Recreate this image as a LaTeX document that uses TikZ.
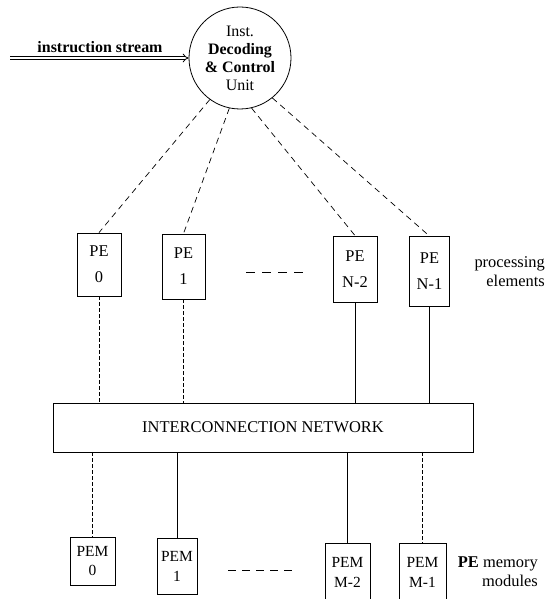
\documentclass[tikz,border=0pt]{standalone}
\usepackage{fontspec}
\setmainfont{Liberation Serif}
\usetikzlibrary{arrows.meta}
\begin{document}
\begin{tikzpicture}[x=1bp,y=-1bp,
  box/.style={draw, line width=0.8bp, rectangle, inner sep=0pt, align=center, font=\fontsize{16.5}{26}\selectfont},
  pembox/.style={box, font=\fontsize{15.5}{20}\selectfont},
  ctl/.style={dash pattern=on 6bp off 4.5bp, line width=0.7bp},
  link/.style={line width=0.7bp},
  dlink/.style={line width=0.7bp, dash pattern=on 4bp off 2bp},
  dots/.style={line width=0.9bp, dash pattern=on 9bp off 7bp},
  lbl/.style={font=\fontsize{16.5}{19}\selectfont, align=right, inner sep=0pt}
]
\useasboundingbox (0,0) rectangle (559,599);

% control unit
\node[draw, circle, line width=0.8bp, minimum size=102bp, inner sep=0pt, align=center,
      font=\fontsize{16}{18}\selectfont] (ctrl) at (240,58)
      {Inst.\\\textbf{Decoding}\\\textbf{\& Control}\\Unit};

% instruction stream
\coordinate (src) at (10,58);
\draw[line width=0.8bp, double distance=2.2bp, -{Implies}] (src) -- (ctrl.west);
\node[font=\fontsize{16}{19}\selectfont\bfseries, inner sep=0pt] (istream) at (100,47) {instruction stream};

% processing elements
\node[box, minimum width=44bp, minimum height=63bp] (pe0) at (99,264.5) {PE\\0};
\node[box, minimum width=43bp, minimum height=65bp] (pe1) at (183.5,266.5) {PE\\1};
\node[box, minimum width=44bp, minimum height=66bp] (pe2) at (355,269) {PE\\N-2};
\node[box, minimum width=40bp, minimum height=70bp] (pe3) at (429.5,271.5) {PE\\N-1};

% network
\node[box, minimum width=420bp, minimum height=49bp, font=\fontsize{16.5}{19}\selectfont] (net) at (263,427.5) {INTERCONNECTION NETWORK};

% memory modules
\node[pembox, minimum width=45bp, minimum height=48bp] (pem0) at (92.5,561) {PEM\\0};
\node[pembox, minimum width=40bp, minimum height=56bp] (pem1) at (177,566) {PEM\\1};
\node[pembox, minimum width=45bp, minimum height=58bp] (pem2) at (347.5,572) {PEM\\M-2};
\node[pembox, minimum width=47bp, minimum height=58bp] (pem3) at (422.5,572) {PEM\\M-1};

% control lines
\draw[ctl] (ctrl.234) -- (pe0.north);
\draw[ctl] (ctrl.258) -- (pe1.north);
\draw[ctl] (ctrl.283) -- (pe2.north);
\draw[ctl] (ctrl.309) -- (pe3.north);

% PE -> network
\draw[dlink] (pe0.south) -- (pe0.south |- net.north);
\draw[dlink] (pe1.south) -- (pe1.south |- net.north);
\draw[link] (pe2.south) -- (pe2.south |- net.north);
\draw[link] (pe3.south) -- (pe3.south |- net.north);

% network -> PEM
\draw[dlink] (pem0.north |- net.south) -- (pem0.north);
\draw[link] (pem1.north |- net.south) -- (pem1.north);
\draw[link] (pem2.north |- net.south) -- (pem2.north);
\draw[dlink] (pem3.north |- net.south) -- (pem3.north);

% ellipsis dashes
\coordinate (d1a) at (246,272); \coordinate (d1b) at (308,272);
\draw[dots] (d1a) -- (d1b);
\coordinate (d2a) at (228,570); \coordinate (d2b) at (292,570);
\draw[dots, dash pattern=on 8bp off 6bp] (d2a) -- (d2b);

% side labels
\node[lbl, anchor=east] (pelbl) at (545,272) {processing\\elements};
\node[lbl, anchor=east] (pemlbl) at (538,572) {\textbf{PE} memory\\modules};
\end{tikzpicture}
\end{document}
